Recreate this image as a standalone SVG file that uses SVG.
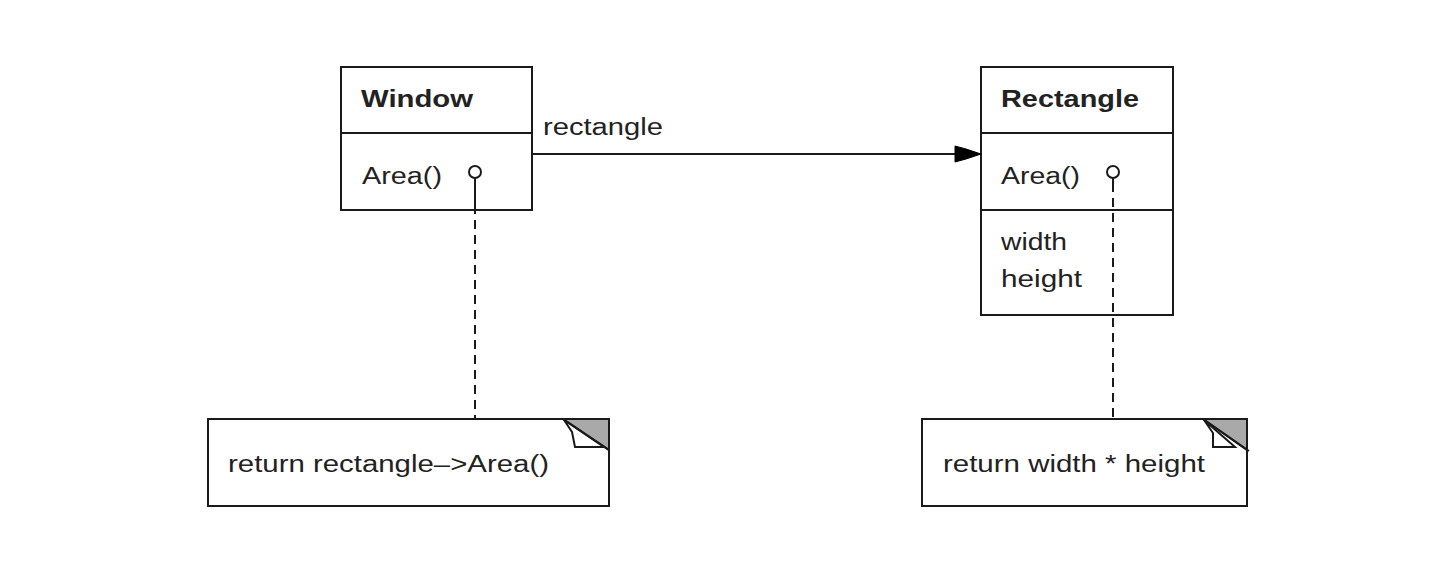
<svg xmlns="http://www.w3.org/2000/svg" width="1438" height="574" viewBox="0 0 1438 574">
<style>
.box{fill:#fff;stroke:#1a1a1a;stroke-width:2}
.ln{fill:none;stroke:#1a1a1a;stroke-width:2}
.dash{fill:none;stroke:#1a1a1a;stroke-width:2;stroke-dasharray:9 6}
.t{font-family:"Liberation Sans",Arial,sans-serif;font-size:23px;fill:#222}
.b{font-weight:bold}
.fold{fill:#fff;stroke:#1a1a1a;stroke-width:2;stroke-linejoin:miter}
.ear{fill:#a9a9a9;stroke:#1a1a1a;stroke-width:2}
.pin{fill:#fff;stroke:#1a1a1a;stroke-width:2}
</style>
<rect width="1438" height="574" fill="#fff"/>
<g id="window">
<rect class="box" x="341" y="67" width="191" height="143"/>
<line class="ln" x1="341" y1="133" x2="532" y2="133"/>
<text class="t b" x="361" y="107" textLength="112" lengthAdjust="spacingAndGlyphs">Window</text>
<text class="t" x="362" y="184" textLength="80" lengthAdjust="spacingAndGlyphs">Area()</text>
</g>
<g id="rectangle">
<rect class="box" x="981" y="67" width="192" height="248"/>
<line class="ln" x1="981" y1="133" x2="1173" y2="133"/>
<line class="ln" x1="981" y1="210" x2="1173" y2="210"/>
<text class="t b" x="1001" y="107" textLength="138" lengthAdjust="spacingAndGlyphs">Rectangle</text>
<text class="t" x="1001" y="184" textLength="79" lengthAdjust="spacingAndGlyphs">Area()</text>
<text class="t" x="1001" y="250" textLength="66" lengthAdjust="spacingAndGlyphs">width</text>
<text class="t" x="1001" y="287" textLength="81" lengthAdjust="spacingAndGlyphs">height</text>
</g>
<g id="note1">
<rect class="box" x="208" y="419" width="401" height="87"/>
<polygon class="ear" points="563,419 609,419 609,450"/>
<polygon class="fold" points="564,420 572,432 575,447 604,447"/>
<line class="ln" x1="563" y1="419" x2="609" y2="450"/>
<text class="t" x="228" y="472" textLength="321" lengthAdjust="spacingAndGlyphs">return rectangle–&gt;Area()</text>
</g>
<g id="note2">
<rect class="box" x="922" y="419" width="325" height="87"/>
<polygon class="ear" points="1203,419 1247,419 1247,450"/>
<polygon class="fold" points="1204,420 1213,433 1213,447 1235,447"/>
<line class="ln" x1="1203" y1="419" x2="1249" y2="451"/>
<text class="t" x="943" y="472" textLength="262" lengthAdjust="spacingAndGlyphs">return width * height</text>
</g>
<g id="connectors">
<line class="ln" x1="532" y1="154" x2="962" y2="154"/>
<polygon points="955,146 966,149 981,154 966,159 955,162" fill="#000" stroke="#000" stroke-width="1"/>
<text class="t" x="543" y="135" textLength="120" lengthAdjust="spacingAndGlyphs">rectangle</text>
<line class="ln" x1="475" y1="178" x2="475" y2="214"/>
<line class="dash" x1="475" y1="220" x2="475" y2="419"/>
<circle class="pin" cx="475" cy="172" r="6"/>
<line class="ln" x1="1113" y1="178" x2="1113" y2="192"/>
<line class="dash" x1="1113" y1="198" x2="1113" y2="419"/>
<circle class="pin" cx="1113" cy="172" r="6"/>
</g>
</svg>
